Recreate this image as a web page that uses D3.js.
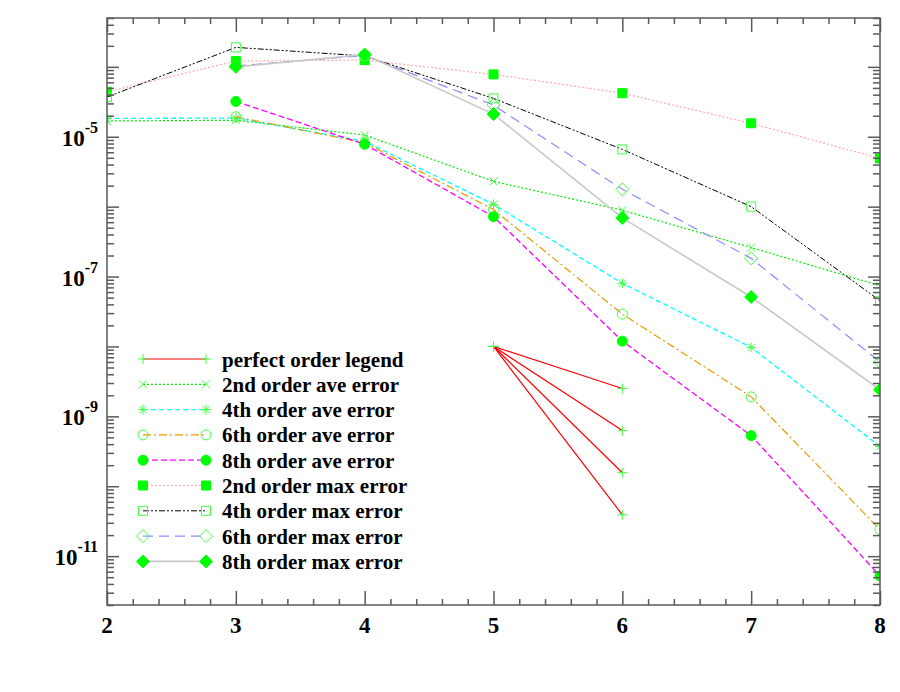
<!DOCTYPE html>
<html>
<head>
<meta charset="utf-8">
<script src="https://cdn.jsdelivr.net/npm/d3@7"></script>
<style>
	body { margin: 0; background: #fff; }
	svg text { font-family: "Liberation Serif", "Times New Roman", serif; font-weight: bold; fill: #000; }
</style>
</head>
<body>
<svg id="chart" width="900" height="692"></svg>
<script>
// data
var xAll = [2, 3, 4, 5, 6, 7, 8];
var xFrom3 = [3, 4, 5, 6, 7, 8];

var ave2 = [1.68e-5, 1.72e-5, 1.06e-5, 2.3e-6, 8.9e-7, 2.6e-7, 7.4e-8];
var ave4 = [1.83e-5, 1.85e-5, 8.6e-6, 1.08e-6, 8.0e-8, 9.7e-9, 3.7e-10];
var ave6 = [1.93e-5, 8.2e-6, 9.1e-7, 2.9e-8, 1.9e-9, 2.4e-11];
var ave8 = [3.2e-5, 7.8e-6, 7.2e-7, 1.19e-8, 5.3e-10, 5.2e-12];

var max2 = [4.4e-5, 1.21e-4, 1.25e-4, 7.8e-5, 4.2e-5, 1.56e-5, 4.9e-6];
var max4 = [3.7e-5, 1.9e-4, 1.43e-4, 3.54e-5, 6.6e-6, 1.0e-6, 4.5e-8];
var max6 = [1.03e-4, 1.45e-4, 2.84e-5, 1.77e-6, 1.82e-7, 6.0e-9];
var max8 = [1.0e-4, 1.5e-4, 2.11e-5, 6.9e-7, 5.1e-8, 2.4e-9];

// perfect order fan: one start point, four end points
var perfectX = [5, 6];
var perfectStart = 1e-8;
var perfectEnd = [2.5e-9, 6.25e-10, 1.5625e-10, 3.90625e-11];

var xTicks = [2, 3, 4, 5, 6, 7, 8];
var yLabelExps = [-5, -7, -9, -11];

var svg = d3.select("#chart");
var plotLeft = 107, plotRight = 880, plotTop = 18, plotBottom = 605;

var x = d3.scaleLinear().domain([2, 8]).range([plotLeft, plotRight]);
var y = d3.scaleLog().domain([2e-12, 5e-4]).range([plotBottom, plotTop]);

var green = "#00ff00";
var lightGreen = "#40ff40";

// marker shapes
var shapes = {
	plus: function (s) { return "M" + (-s) + ",0H" + s + "M0," + (-s) + "V" + s; },
	cross: function (s) { return "M" + (-s) + "," + (-s) + "L" + s + "," + s + "M" + (-s) + "," + s + "L" + s + "," + (-s); },
	star: function (s) {
		var d = s * 0.72;
		return "M" + (-s) + ",0H" + s + "M0," + (-s) + "V" + s +
			"M" + (-d) + "," + (-d) + "L" + d + "," + d + "M" + (-d) + "," + d + "L" + d + "," + (-d);
	},
	circle: function (s) { return "M" + s + ",0A" + s + "," + s + " 0 1,1 " + (-s) + ",0A" + s + "," + s + " 0 1,1 " + s + ",0Z"; },
	square: function (s) { return "M" + (-s) + "," + (-s) + "H" + s + "V" + s + "H" + (-s) + "Z"; },
	diamond: function (s) { return "M0," + (-s) + "L" + s + ",0L0," + s + "L" + (-s) + ",0Z"; }
};

var series = [
	{ name: "2nd order ave error", xs: xAll, ys: ave2, color: "#00ee00", dash: "2,2", width: 1.2, sym: "cross", size: 4, filled: false },
	{ name: "4th order ave error", xs: xAll, ys: ave4, color: "#00ffff", dash: "5,3", width: 1.3, sym: "star", size: 5, filled: false },
	{ name: "6th order ave error", xs: xFrom3, ys: ave6, color: "#e69a00", dash: "8,3,2,3", width: 1.2, sym: "circle", size: 5, filled: false },
	{ name: "8th order ave error", xs: xFrom3, ys: ave8, color: "#ff00ff", dash: "6,3", width: 1.3, sym: "circle", size: 5, filled: true },
	{ name: "2nd order max error", xs: xAll, ys: max2, color: "#ffa8a8", dash: "2,2", width: 1.2, sym: "square", size: 4.5, filled: true },
	{ name: "4th order max error", xs: xAll, ys: max4, color: "#000000", dash: "6,2,2,2,2,2", width: 1, sym: "square", size: 4.5, filled: false },
	{ name: "6th order max error", xs: xFrom3, ys: max6, color: "#8c8cff", dash: "10,6", width: 1.2, sym: "diamond", size: 6.5, filled: false },
	{ name: "8th order max error", xs: xFrom3, ys: max8, color: "#c8c8c8", dash: null, width: 1.6, sym: "diamond", size: 6.5, filled: true }
];

function drawMarker(g, sym, size, filled, px, py) {
	g.append("path")
		.attr("d", shapes[sym](size))
		.attr("transform", "translate(" + px + "," + py + ")")
		.attr("fill", filled ? green : "none")
		.attr("stroke", filled ? green : lightGreen)
		.attr("stroke-width", 1);
}

// clip to the frame
svg.append("clipPath").attr("id", "plotClip")
	.append("rect").attr("x", plotLeft).attr("y", plotTop)
	.attr("width", plotRight - plotLeft).attr("height", plotBottom - plotTop);

var plot = svg.append("g").attr("clip-path", "url(#plotClip)");

var line = d3.line().x(function (d) { return x(d[0]); }).y(function (d) { return y(d[1]); });

// perfect order lines
perfectEnd.forEach(function (v) {
	var pts = [[perfectX[0], perfectStart], [perfectX[1], v]];
	plot.append("path").attr("d", line(pts)).attr("fill", "none")
		.attr("stroke", "#ff0000").attr("stroke-width", 1.2);
	pts.forEach(function (p) { drawMarker(plot, "plus", 5, false, x(p[0]), y(p[1])); });
});

series.forEach(function (s) {
	var pts = s.xs.map(function (xv, i) { return [xv, s.ys[i]]; });
	plot.append("path").attr("d", line(pts)).attr("fill", "none")
		.attr("stroke", s.color).attr("stroke-width", s.width)
		.attr("stroke-dasharray", s.dash);
	pts.forEach(function (p) { drawMarker(plot, s.sym, s.size, s.filled, x(p[0]), y(p[1])); });
});

// axes: ticks pointing inward on all four sides
var frameColor = "#5a5a5a";
var xMinor = d3.range(2, 8.001, 0.2).filter(function (v) { return Math.abs(v - Math.round(v)) > 1e-6; });
var yMajor = d3.range(-11, -3).map(function (e) { return Math.pow(10, e); });
var yMinor = [];
d3.range(-12, -3).forEach(function (e) {
	for (var k = 2; k <= 9; k++) {
		var v = k * Math.pow(10, e);
		if (v >= 2e-12 && v <= 5e-4) yMinor.push(v);
	}
});

function tickAxis(axisFn, scale, values, size, transform) {
	var g = svg.append("g").attr("transform", transform)
		.call(axisFn(scale).tickValues(values).tickSize(size).tickFormat(""));
	g.select(".domain").remove();
	g.selectAll(".tick line").attr("stroke", frameColor).attr("stroke-width", 1.5);
}

tickAxis(d3.axisTop, x, xTicks, 14, "translate(0," + plotBottom + ")");
tickAxis(d3.axisTop, x, xMinor, 6, "translate(0," + plotBottom + ")");
tickAxis(d3.axisBottom, x, xTicks, 14, "translate(0," + plotTop + ")");
tickAxis(d3.axisBottom, x, xMinor, 6, "translate(0," + plotTop + ")");
tickAxis(d3.axisRight, y, yMajor, 12, "translate(" + plotLeft + ",0)");
tickAxis(d3.axisRight, y, yMinor, 7, "translate(" + plotLeft + ",0)");
tickAxis(d3.axisLeft, y, yMajor, 12, "translate(" + plotRight + ",0)");
tickAxis(d3.axisLeft, y, yMinor, 7, "translate(" + plotRight + ",0)");

svg.append("rect").attr("x", plotLeft).attr("y", plotTop)
	.attr("width", plotRight - plotLeft).attr("height", plotBottom - plotTop)
	.attr("fill", "none").attr("stroke", frameColor).attr("stroke-width", 1.5);

// tick labels
svg.selectAll("text.xlab").data(xTicks).enter().append("text")
	.attr("class", "xlab")
	.attr("x", function (d) { return x(d); })
	.attr("y", 633)
	.attr("text-anchor", "middle")
	.attr("font-size", 23)
	.text(function (d) { return d; });

yLabelExps.forEach(function (e) {
	var ty = y(Math.pow(10, e));
	var t = svg.append("text")
		.attr("x", 98).attr("y", ty + 9)
		.attr("text-anchor", "end");
	t.append("tspan").attr("font-size", 23).text("10");
	t.append("tspan").attr("font-size", 16).attr("dy", -13).text(String(e));
});

// legend
var legendRows = [{ name: "perfect order legend", color: "#ff0000", dash: null, width: 1.2, sym: "plus", size: 5, filled: false }].concat(series);
var legend = svg.append("g");
legendRows.forEach(function (s, i) {
	var ly = 359 + i * 25.3;
	legend.append("line").attr("x1", 143).attr("x2", 206).attr("y1", ly).attr("y2", ly)
		.attr("stroke", s.color).attr("stroke-width", s.width).attr("stroke-dasharray", s.dash);
	drawMarker(legend, s.sym, s.size, s.filled, 143, ly);
	drawMarker(legend, s.sym, s.size, s.filled, 206, ly);
	legend.append("text").attr("x", 222).attr("y", ly + 7.5)
		.attr("font-size", 21).text(s.name);
});
</script>
</body>
</html>
